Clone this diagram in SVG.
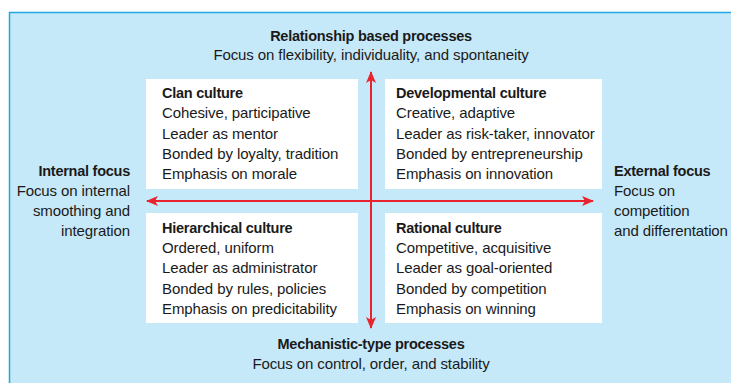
<svg xmlns="http://www.w3.org/2000/svg" width="731" height="383" viewBox="0 0 731 383">
<defs>
<style>
text{font-family:"Liberation Sans",Arial,sans-serif;fill:#1a1a1a;font-size:15px;letter-spacing:-0.1px}
.b{font-weight:bold;font-size:14.5px;letter-spacing:-0.25px}
.box{fill:#ffffff}
.ax{stroke:#e8232e;stroke-width:2;fill:none}
.r{text-anchor:end}
.m{text-anchor:middle}
</style>
<marker id="ah" viewBox="0 0 12 10" refX="11" refY="5" markerWidth="12" markerHeight="10" markerUnits="userSpaceOnUse" orient="auto-start-reverse">
<path d="M0,0 L12,5 L0,10 L3,5 Z" fill="#e8232e"/>
</marker>
</defs>
<rect x="9.5" y="12.5" width="740" height="400" fill="#c6e9f9" stroke="#1fa9e4" stroke-width="1.5"/>
<g id="top-label">
<text class="b m" x="371" y="41">Relationship based processes</text>
<text class="m" x="371" y="60">Focus on flexibility, individuality, and spontaneity</text>
</g>
<g id="bottom-label">
<text class="b m" x="371" y="349">Mechanistic-type processes</text>
<text class="m" x="371" y="369">Focus on control, order, and stability</text>
</g>
<g id="left-label">
<text class="b r" x="130" y="176">Internal focus</text>
<text class="r" x="130" y="196">Focus on internal</text>
<text class="r" x="130" y="216">smoothing and</text>
<text class="r" x="130" y="236">integration</text>
</g>
<g id="right-label">
<text class="b" x="614" y="176">External focus</text>
<text x="614" y="196">Focus on</text>
<text x="614" y="216">competition</text>
<text x="614" y="236">and differentation</text>
</g>
<g id="clan">
<rect class="box" x="146" y="79" width="212" height="110"/>
<text class="b" x="162" y="98">Clan culture</text>
<text x="162" y="118">Cohesive, participative</text>
<text x="162" y="138.5">Leader as mentor</text>
<text x="162" y="159">Bonded by loyalty, tradition</text>
<text x="162" y="179">Emphasis on morale</text>
</g>
<g id="developmental">
<rect class="box" x="385" y="79" width="217" height="110"/>
<text class="b" x="396" y="98">Developmental culture</text>
<text x="396" y="118">Creative, adaptive</text>
<text x="396" y="138.5">Leader as risk-taker, innovator</text>
<text x="396" y="159">Bonded by entrepreneurship</text>
<text x="396" y="179">Emphasis on innovation</text>
</g>
<g id="hierarchical">
<rect class="box" x="146" y="213" width="212" height="110"/>
<text class="b" x="162" y="233">Hierarchical culture</text>
<text x="162" y="253">Ordered, uniform</text>
<text x="162" y="273">Leader as administrator</text>
<text x="162" y="294">Bonded by rules, policies</text>
<text x="162" y="314">Emphasis on predicitability</text>
</g>
<g id="rational">
<rect class="box" x="385" y="213" width="217" height="110"/>
<text class="b" x="396" y="233">Rational culture</text>
<text x="396" y="253">Competitive, acquisitive</text>
<text x="396" y="273">Leader as goal-oriented</text>
<text x="396" y="294">Bonded by competition</text>
<text x="396" y="314">Emphasis on winning</text>
</g>
<g id="connectors">
<path class="ax" d="M371,328 L371,72" marker-start="url(#ah)" marker-end="url(#ah)"/>
<path class="ax" d="M147,201 L593,201" marker-start="url(#ah)" marker-end="url(#ah)"/>
</g>
</svg>
